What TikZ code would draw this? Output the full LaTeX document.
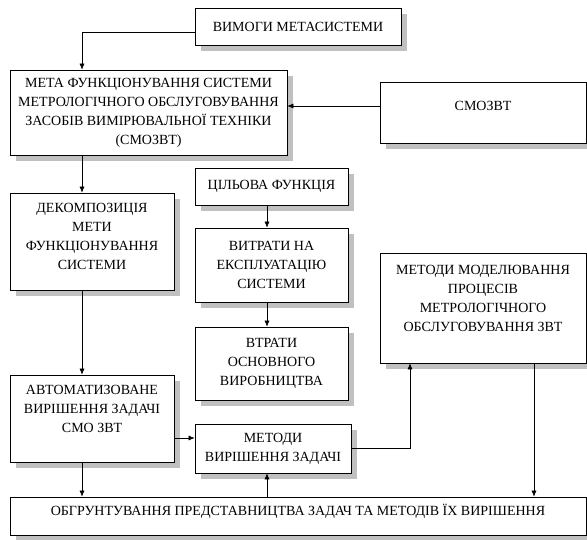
\documentclass[tikz,border=0pt]{standalone}
\usepackage{fontspec}
\setmainfont{Liberation Serif}
\usepackage{tikz}
\usetikzlibrary{arrows.meta,positioning,calc}
\definecolor{ShadeGray}{HTML}{C0C0C0}
\begin{document}
\begin{tikzpicture}[
  x=1pt,y=-1pt,
  blockbox/.style={draw=black,fill=white,line width=0.7pt,align=center,inner sep=0pt,
    font=\fontsize{14}{19}\selectfont,
    preaction={fill=ShadeGray,draw=none,transform canvas={xshift=6pt,yshift=-6pt}}},
  arrow/.style={-{Latex[length=6pt,width=5pt]},draw=black,line width=0.6pt}
]
\useasboundingbox (0,0) rectangle (587,540);
\node[blockbox,minimum width=206,minimum height=37] (vymogy) at (298,26.5) {ВИМОГИ МЕТАСИСТЕМИ};
\node[blockbox,minimum width=277,minimum height=85] (meta) at (148.5,112.5) {МЕТА ФУНКЦІОНУВАННЯ СИСТЕМИ\\МЕТРОЛОГІЧНОГО ОБСЛУГОВУВАННЯ\\ЗАСОБІВ ВИМІРЮВАЛЬНОЇ ТЕХНІКИ\\(СМОЗВТ)};
\node[blockbox,minimum width=206,minimum height=61] (smozvt) at (483,112.5) {СМОЗВТ\\[-6pt]~};
\node[blockbox,minimum width=164,minimum height=97] (dekomp) at (92,241.5) {ДЕКОМПОЗИЦІЯ\\МЕТИ\\ФУНКЦІОНУВАННЯ\\СИСТЕМИ\\[-9pt]~};
\node[blockbox,minimum width=153,minimum height=37] (cilova) at (271.5,186.5) {ЦІЛЬОВА ФУНКЦІЯ};
\node[blockbox,minimum width=153,minimum height=74] (vytraty) at (271.5,265) {ВИТРАТИ НА\\ЕКСПЛУАТАЦІЮ\\СИСТЕМИ};
\node[blockbox,minimum width=153,minimum height=73] (vtraty) at (271.5,363.5) {ВТРАТИ\\ОСНОВНОГО\\ВИРОБНИЦТВА};
\node[blockbox,minimum width=206,minimum height=110] (modeli) at (483,308) {МЕТОДИ МОДЕЛЮВАННЯ\\ПРОЦЕСІВ\\МЕТРОЛОГІЧНОГО\\ОБСЛУГОВУВАННЯ ЗВТ\\~};
\node[blockbox,minimum width=164,minimum height=87] (avtomat) at (92,418.5) {АВТОМАТИЗОВАНЕ\\ВИРІШЕННЯ ЗАДАЧІ\\СМО ЗВТ\\~};
\node[blockbox,minimum width=156,minimum height=49] (metody) at (273,448.5) {МЕТОДИ\\ВИРІШЕННЯ ЗАДАЧІ};
\node[blockbox,minimum width=576,minimum height=38] (obgr) at (298,516) {ОБГРУНТУВАННЯ ПРЕДСТАВНИЦТВА ЗАДАЧ ТА МЕТОДІВ ЇХ ВИРІШЕННЯ\\[-6pt]~};
% columns and rows of the connectors
\coordinate (lcol) at (82,0);
\coordinate (mcol) at (267,0);
\coordinate (rcol) at (410,0);
\coordinate (fcol) at (534,0);
\coordinate (hrow) at (0,438);
\draw[arrow] ([yshift=-5.5pt]vymogy.west) -| (lcol |- meta.north);
\draw[arrow] ([yshift=6.5pt]smozvt.west) -- ([yshift=6.5pt]smozvt.west -| meta.east);
\draw[arrow] (lcol |- meta.south) -- (lcol |- dekomp.north);
\draw[arrow] (lcol |- dekomp.south) -- (lcol |- avtomat.north);
\draw[arrow] (lcol |- avtomat.south) -- (lcol |- obgr.north);
\draw[arrow] (mcol |- cilova.south) -- (mcol |- vytraty.north);
\draw[arrow] (mcol |- vytraty.south) -- (mcol |- vtraty.north);
\draw[arrow] (avtomat.east |- hrow) -- (metody.west |- hrow);
\draw[arrow] (metody.east) -| (rcol |- modeli.south);
\draw[arrow] (mcol |- obgr.north) -- (mcol |- metody.south);
\draw[arrow] (fcol |- modeli.south) -- (fcol |- obgr.north);
\end{tikzpicture}
\end{document}
